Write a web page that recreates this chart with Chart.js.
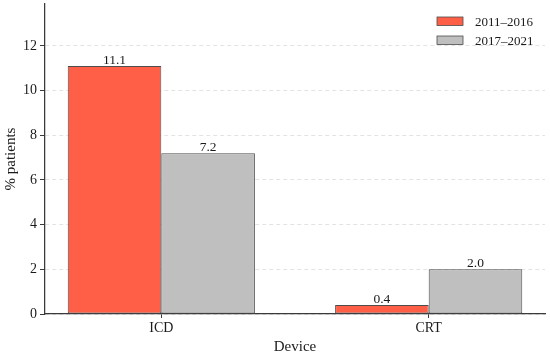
<!DOCTYPE html>
<html>
<head>
<meta charset="utf-8">
<script src="https://cdn.jsdelivr.net/npm/chart.js@4/dist/chart.umd.min.js"></script>
<style>
html,body{margin:0;padding:0;background:#fff;}
canvas{display:block;}
</style>
</head>
<body>
<canvas id="c" width="550" height="356"></canvas>
<script>
const categories = ['ICD', 'CRT'];
const seriesLabels = ['2011–2016', '2017–2021'];
const values2011_2016 = [11.1, 0.4];
const values2017_2021 = [7.2, 2.0];
const yTicks = [0, 2, 4, 6, 8, 10, 12];

const FONT = 'Liberation Serif';
const TXT = '#1a1a1a';
const colors = ['#ff5f46', '#c0bfc0'];

const dataLabels = {
  id: 'dataLabels',
  afterDatasetsDraw(chart) {
    const ctx = chart.ctx;
    ctx.save();
    ctx.font = '13.5px "' + FONT + '"';
    ctx.fillStyle = TXT;
    ctx.textAlign = 'center';
    ctx.textBaseline = 'alphabetic';
    chart.data.datasets.forEach((ds, di) => {
      const meta = chart.getDatasetMeta(di);
      meta.data.forEach((bar, i) => {
        ctx.fillText(ds.data[i].y.toFixed(1), bar.x, bar.y - 2.5);
      });
    });
    ctx.restore();
  }
};

const customLegend = {
  id: 'customLegend',
  afterDraw(chart) {
    const ctx = chart.ctx;
    const area = chart.chartArea;
    ctx.save();
    ctx.font = '13px "' + FONT + '"';
    ctx.textBaseline = 'alphabetic';
    chart.data.datasets.forEach((ds, i) => {
      const bx = area.right - 108, by = area.top + 13 + i * 19;
      ctx.fillStyle = ds.backgroundColor;
      ctx.fillRect(bx, by, 26, 8.5);
      ctx.strokeStyle = ds.borderColor;
      ctx.lineWidth = 0.8;
      ctx.strokeRect(bx, by, 26, 8.5);
      ctx.fillStyle = TXT;
      ctx.textAlign = 'left';
      ctx.fillText(ds.label, bx + 38, by + 9);
    });
    ctx.restore();
  }
};

new Chart(document.getElementById('c'), {
  type: 'bar',
  data: {
    datasets: [
      {
        label: seriesLabels[0],
        data: values2011_2016.map((v, i) => ({x: i, y: v})),
        backgroundColor: colors[0],
        borderColor: '#4d4d4d',
        borderWidth: 1,
        borderSkipped: false
      },
      {
        label: seriesLabels[1],
        data: values2017_2021.map((v, i) => ({x: i, y: v})),
        backgroundColor: colors[1],
        borderColor: '#4d4d4d',
        borderWidth: 1,
        borderSkipped: false
      }
    ]
  },
  options: {
    responsive: false,
    animation: false,
    categoryPercentage: 0.7,
    barPercentage: 1.0,
    layout: {padding: {top: 4, right: 5, left: 0, bottom: 0}},
    plugins: {
      legend: {display: false},
      tooltip: {enabled: false}
    },
    scales: {
      x: {
        type: 'linear',
        min: -0.435,
        max: 1.435,
        offset: false,
        afterBuildTicks(scale) {
          scale.ticks = categories.map((c, i) => ({value: i}));
        },
        afterFit(scale) {
          scale.height = 42;
          scale.paddingLeft = 0; scale.paddingRight = 0;
        },
        grid: {
          display: true,
          drawOnChartArea: false,
          drawTicks: true,
          tickLength: 4,
          tickColor: '#3a3a3a',
          tickWidth: 1,
          offset: false
        },
        border: {display: true, color: '#3a3a3a', width: 1.25},
        ticks: {
          autoSkip: false,
          maxRotation: 0,
          padding: 2,
          color: TXT,
          font: {family: FONT, size: 14},
          callback: (v) => categories[v] !== undefined ? categories[v] : ''
        },
        title: {
          display: true,
          text: 'Device',
          color: TXT,
          font: {family: FONT, size: 15},
          padding: {top: 4, bottom: 0}
        }
      },
      y: {
        min: 0,
        max: 13.875,
        afterBuildTicks(scale) {
          scale.ticks = yTicks.map(v => ({value: v}));
        },
        afterFit(scale) {
          scale.width = 45;
          scale.paddingTop = 0; scale.paddingBottom = 0;
        },
        grid: {
          color: '#dcdcdc',
          lineWidth: 0.8,
          drawTicks: true,
          tickLength: 5,
          tickColor: '#3a3a3a',
          tickWidth: 1,
          tickBorderDash: [],
          borderDash: [4, 3]
        },
        border: {display: true, color: '#3a3a3a', width: 1.25, dash: [4, 3]},
        ticks: {
          padding: 3,
          color: TXT,
          font: {family: FONT, size: 14}
        },
        title: {
          display: true,
          text: '% patients',
          color: TXT,
          font: {family: FONT, size: 15},
          padding: {top: 2, bottom: 0}
        }
      }
    }
  },
  plugins: [dataLabels, customLegend]
});
</script>
</body>
</html>
